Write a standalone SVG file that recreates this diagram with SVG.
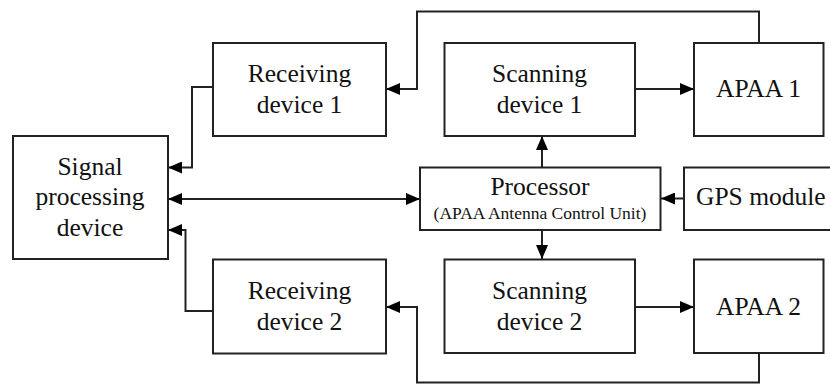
<svg xmlns="http://www.w3.org/2000/svg" width="830" height="384" viewBox="0 0 830 384">
<defs>
<style>
.box{fill:#fff;stroke:#222;stroke-width:2}
.t{font-family:"Liberation Serif","Times New Roman",serif;font-size:25.5px;fill:#111;text-anchor:middle}
.s{font-size:17.5px}
.c{fill:none;stroke:#222;stroke-width:2}
</style>
<marker id="ah" markerUnits="userSpaceOnUse" markerWidth="14" markerHeight="12" refX="14" refY="6" orient="auto-start-reverse">
<path d="M0,0 L14,6 L0,12 z" fill="#000"/>
</marker>
</defs>
<rect width="830" height="384" fill="#fff"/>
<g id="connectors">
<path class="c" d="M213,87 H192 V167.5 H168" marker-end="url(#ah)"/>
<path class="c" d="M213,311 H185.5 V230 H168" marker-end="url(#ah)"/>
<path class="c" d="M168,199 H420" marker-start="url(#ah)" marker-end="url(#ah)"/>
<path class="c" d="M759,43 V11.5 H417 V89 H386" marker-end="url(#ah)"/>
<path class="c" d="M759,353 V382.5 H417 V307 H386" marker-end="url(#ah)"/>
<path class="c" d="M635,89 H694" marker-end="url(#ah)"/>
<path class="c" d="M635,307 H694" marker-end="url(#ah)"/>
<path class="c" d="M542,167 V136" marker-end="url(#ah)"/>
<path class="c" d="M542,230 V259" marker-end="url(#ah)"/>
<path class="c" d="M684,198.5 H661" marker-end="url(#ah)"/>
</g>
<g id="signal">
<rect class="box" x="13" y="136" width="155" height="123"/>
<text class="t" x="90" y="174.5">Signal</text>
<text class="t" x="90" y="205">processing</text>
<text class="t" x="90" y="236">device</text>
</g>
<g id="recv1">
<rect class="box" x="213" y="43" width="173" height="93"/>
<text class="t" x="299.5" y="81.5">Receiving</text>
<text class="t" x="299.5" y="112.5">device 1</text>
</g>
<g id="recv2">
<rect class="box" x="213" y="259.5" width="173" height="94"/>
<text class="t" x="299.5" y="298.5">Receiving</text>
<text class="t" x="299.5" y="329.5">device 2</text>
</g>
<g id="scan1">
<rect class="box" x="444.5" y="43" width="190.5" height="93"/>
<text class="t" x="539.5" y="81.5">Scanning</text>
<text class="t" x="539.5" y="112.5">device 1</text>
</g>
<g id="scan2">
<rect class="box" x="444.5" y="259.5" width="190.5" height="93.5"/>
<text class="t" x="539.5" y="298.5">Scanning</text>
<text class="t" x="539.5" y="329.5">device 2</text>
</g>
<g id="apaa1">
<rect class="box" x="694" y="43" width="129.5" height="93"/>
<text class="t" x="758.5" y="97">APAA 1</text>
</g>
<g id="apaa2">
<rect class="box" x="694" y="259.5" width="129.5" height="93.5"/>
<text class="t" x="758.5" y="315">APAA 2</text>
</g>
<g id="processor">
<rect class="box" x="420" y="167.5" width="240.5" height="62.5"/>
<text class="t" x="540" y="195">Processor</text>
<text class="t s" x="540" y="218.5">(APAA Antenna Control Unit)</text>
</g>
<g id="gps">
<rect class="box" x="684" y="167.5" width="160" height="62.5"/>
<text class="t" x="696" y="205" style="text-anchor:start">GPS module</text>
</g>
</svg>
